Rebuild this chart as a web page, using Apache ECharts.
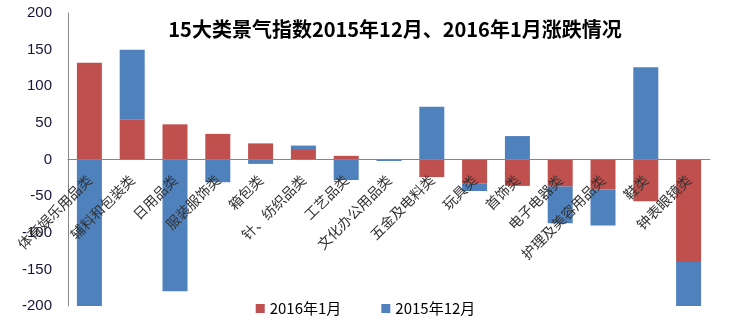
<!DOCTYPE html>
<html>
<head>
<meta charset="utf-8">
<script src="https://cdn.jsdelivr.net/npm/echarts@6/dist/echarts.min.js"></script>
<style>
  html, body { margin: 0; padding: 0; background: #fff; }
  #chart { width: 731px; height: 335px; }
</style>
</head>
<body>
<div id="chart"></div>
<script>
// 15 product categories
const categories = [
  '体育娱乐用品类', '辅料和包装类', '日用品类', '服装服饰类', '箱包类',
  '针、纺织品类', '工艺品类', '文化办公用品类', '五金及电料类', '玩具类',
  '首饰类', '电子电器类', '护理及美容用品类', '鞋类', '钟表眼镜类'
];

// Index change, January 2016
const jan2016 = [132, 55, 48, 35, 22, 13, 5, 0, -24, -33, -36, -37, -41, -57, -140];

// Index change, December 2015
const dec2015 = [-200, 95, -180, -31, -6, 6, -28, -2, 72, -10, 32, -50, -49, 126, -60];

// Value axis ticks
const yTicks = { min: -200, max: 200, interval: 50 };

// Plot area in pixels
const gridTop = 13, gridBottom = 29, chartHeight = 335;
const plotHeight = chartHeight - gridTop - gridBottom;
// Category axis sits on the zero line: shift it up from the plot bottom
const zeroOffset = -plotHeight * (0 - yTicks.min) / (yTicks.max - yTicks.min);

const chart = echarts.init(document.getElementById('chart'));

chart.setOption({
  animation: false,
  backgroundColor: '#ffffff',
  title: {
    text: '15大类景气指数2015年12月、2016年1月涨跌情况',
    left: 390,
    top: 14,
    textAlign: 'center',
    textStyle: {
      fontFamily: '"Noto Sans CJK SC", sans-serif',
      fontWeight: 'bold',
      fontSize: 20,
      color: '#000000'
    }
  },
  legend: {
    bottom: 14,
    left: 'center',
    itemWidth: 9,
    itemHeight: 9,
    itemGap: 40,
    icon: 'rect',
    textStyle: {
      fontFamily: '"Noto Sans CJK SC", sans-serif',
      fontSize: 15,
      color: '#000000'
    },
    data: ['2016年1月', '2015年12月']
  },
  grid: {
    left: 68,
    right: 21,
    top: gridTop,
    bottom: gridBottom,
    containLabel: false,
    outerBoundsMode: 'none'
  },
  xAxis: {
    type: 'category',
    data: categories,
    position: 'bottom',
    offset: zeroOffset,
    z: 10,
    axisLine: { onZero: false, lineStyle: { color: '#868686', width: 1 } },
    axisTick: { show: false },
    axisLabel: {
      interval: 0,
      rotate: 45,
      margin: 18,
      overflow: 'none',
      hideOverlap: false,
      fontFamily: '"Noto Sans CJK SC", sans-serif',
      fontSize: 14,
      color: '#333333'
    },
    splitLine: { show: false }
  },
  yAxis: {
    type: 'value',
    min: yTicks.min,
    max: yTicks.max,
    interval: yTicks.interval,
    axisLine: { show: true, lineStyle: { color: '#868686', width: 1 } },
    axisTick: { show: false },
    axisLabel: {
      margin: 16,
      fontFamily: '"Liberation Sans", Arial, sans-serif',
      fontSize: 15,
      color: '#15153a'
    },
    splitLine: { show: false }
  },
  series: [
    {
      name: '2016年1月',
      type: 'bar',
      stack: 'total',
      barWidth: 25,
      itemStyle: { color: '#C0504D' },
      data: jan2016
    },
    {
      name: '2015年12月',
      type: 'bar',
      stack: 'total',
      barWidth: 25,
      itemStyle: { color: '#4F81BD' },
      data: dec2015
    }
  ]
});
</script>
</body>
</html>
